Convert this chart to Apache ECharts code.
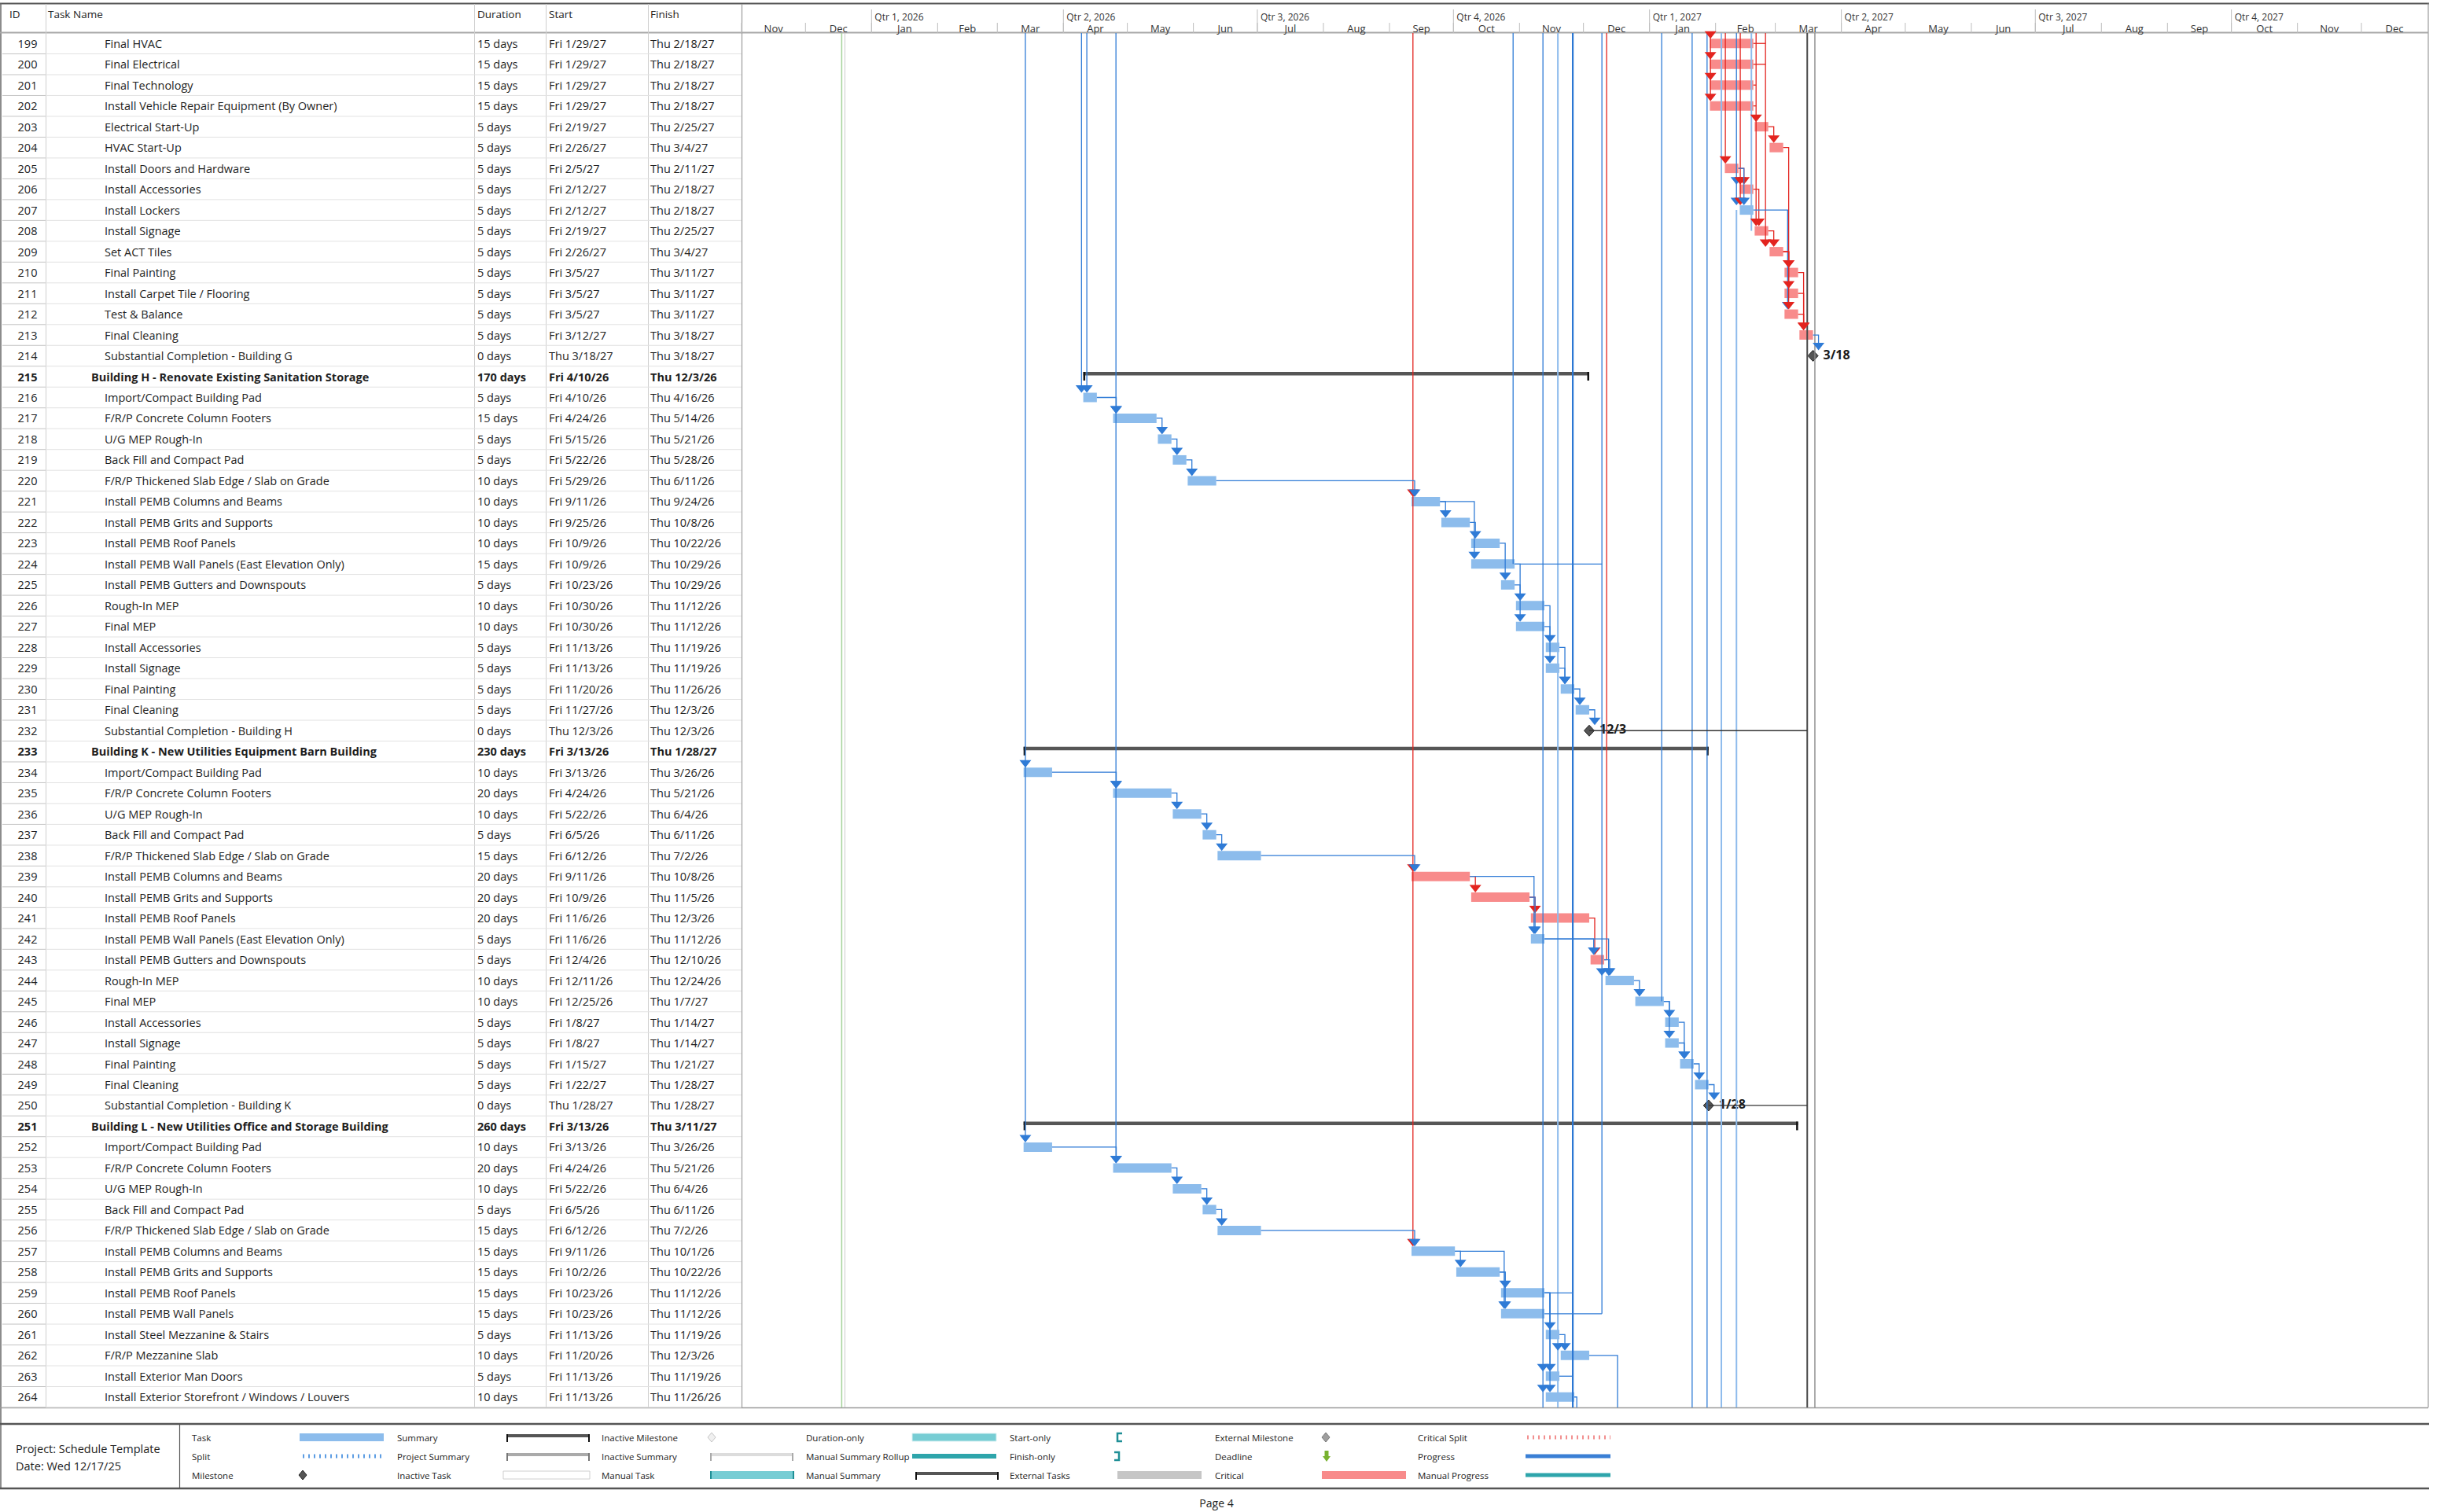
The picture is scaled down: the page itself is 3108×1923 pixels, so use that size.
<!DOCTYPE html>
<html>
<head>
<meta charset="utf-8">
<script src="https://cdn.jsdelivr.net/npm/echarts@6/dist/echarts.min.js"></script>
<style>
html,body{margin:0;padding:0;background:#fff}
#main{width:3108px;height:1923px}
</style>
</head>
<body>
<div id="main"></div>
<script>
// table rows
var ids = [199,200,201,202,203,204,205,206,207,208,209,210,211,212,213,214,215,216,217,218,219,220,
  221,222,223,224,225,226,227,228,229,230,231,232,233,234,235,236,237,238,239,240,241,242,243,244,
  245,246,247,248,249,250,251,252,253,254,255,256,257,258,259,260,261,262,263,264];
var names = ['Final HVAC','Final Electrical','Final Technology','Install Vehicle Repair Equipment (By Owner)',
  'Electrical Start-Up','HVAC Start-Up','Install Doors and Hardware','Install Accessories','Install Lockers',
  'Install Signage','Set ACT Tiles','Final Painting','Install Carpet Tile / Flooring','Test & Balance',
  'Final Cleaning','Substantial Completion - Building G','Building H - Renovate Existing Sanitation Storage',
  'Import/Compact Building Pad','F/R/P Concrete Column Footers','U/G MEP Rough-In','Back Fill and Compact Pad',
  'F/R/P Thickened Slab Edge / Slab on Grade','Install PEMB Columns and Beams','Install PEMB Grits and Supports',
  'Install PEMB Roof Panels','Install PEMB Wall Panels (East Elevation Only)','Install PEMB Gutters and Downspouts',
  'Rough-In MEP','Final MEP','Install Accessories','Install Signage','Final Painting','Final Cleaning',
  'Substantial Completion - Building H','Building K - New Utilities Equipment Barn Building',
  'Import/Compact Building Pad','F/R/P Concrete Column Footers','U/G MEP Rough-In','Back Fill and Compact Pad',
  'F/R/P Thickened Slab Edge / Slab on Grade','Install PEMB Columns and Beams','Install PEMB Grits and Supports',
  'Install PEMB Roof Panels','Install PEMB Wall Panels (East Elevation Only)','Install PEMB Gutters and Downspouts',
  'Rough-In MEP','Final MEP','Install Accessories','Install Signage','Final Painting','Final Cleaning',
  'Substantial Completion - Building K','Building L - New Utilities Office and Storage Building',
  'Import/Compact Building Pad','F/R/P Concrete Column Footers','U/G MEP Rough-In','Back Fill and Compact Pad',
  'F/R/P Thickened Slab Edge / Slab on Grade','Install PEMB Columns and Beams','Install PEMB Grits and Supports',
  'Install PEMB Roof Panels','Install PEMB Wall Panels','Install Steel Mezzanine & Stairs','F/R/P Mezzanine Slab',
  'Install Exterior Man Doors','Install Exterior Storefront / Windows / Louvers'];
var durations = ['15 days','15 days','15 days','15 days','5 days','5 days','5 days','5 days','5 days','5 days',
  '5 days','5 days','5 days','5 days','5 days','0 days','170 days','5 days','15 days','5 days','5 days','10 days',
  '10 days','10 days','10 days','15 days','5 days','10 days','10 days','5 days','5 days','5 days','5 days','0 days',
  '230 days','10 days','20 days','10 days','5 days','15 days','20 days','20 days','20 days','5 days','5 days',
  '10 days','10 days','5 days','5 days','5 days','5 days','0 days','260 days','10 days','20 days','10 days',
  '5 days','15 days','15 days','15 days','15 days','15 days','5 days','10 days','5 days','10 days'];
var starts = ['Fri 1/29/27','Fri 1/29/27','Fri 1/29/27','Fri 1/29/27','Fri 2/19/27','Fri 2/26/27','Fri 2/5/27',
  'Fri 2/12/27','Fri 2/12/27','Fri 2/19/27','Fri 2/26/27','Fri 3/5/27','Fri 3/5/27','Fri 3/5/27','Fri 3/12/27',
  'Thu 3/18/27','Fri 4/10/26','Fri 4/10/26','Fri 4/24/26','Fri 5/15/26','Fri 5/22/26','Fri 5/29/26','Fri 9/11/26',
  'Fri 9/25/26','Fri 10/9/26','Fri 10/9/26','Fri 10/23/26','Fri 10/30/26','Fri 10/30/26','Fri 11/13/26',
  'Fri 11/13/26','Fri 11/20/26','Fri 11/27/26','Thu 12/3/26','Fri 3/13/26','Fri 3/13/26','Fri 4/24/26',
  'Fri 5/22/26','Fri 6/5/26','Fri 6/12/26','Fri 9/11/26','Fri 10/9/26','Fri 11/6/26','Fri 11/6/26','Fri 12/4/26',
  'Fri 12/11/26','Fri 12/25/26','Fri 1/8/27','Fri 1/8/27','Fri 1/15/27','Fri 1/22/27','Thu 1/28/27',
  'Fri 3/13/26','Fri 3/13/26','Fri 4/24/26','Fri 5/22/26','Fri 6/5/26','Fri 6/12/26','Fri 9/11/26','Fri 10/2/26',
  'Fri 10/23/26','Fri 10/23/26','Fri 11/13/26','Fri 11/20/26','Fri 11/13/26','Fri 11/13/26'];
var finishes = ['Thu 2/18/27','Thu 2/18/27','Thu 2/18/27','Thu 2/18/27','Thu 2/25/27','Thu 3/4/27','Thu 2/11/27',
  'Thu 2/18/27','Thu 2/18/27','Thu 2/25/27','Thu 3/4/27','Thu 3/11/27','Thu 3/11/27','Thu 3/11/27','Thu 3/18/27',
  'Thu 3/18/27','Thu 12/3/26','Thu 4/16/26','Thu 5/14/26','Thu 5/21/26','Thu 5/28/26','Thu 6/11/26','Thu 9/24/26',
  'Thu 10/8/26','Thu 10/22/26','Thu 10/29/26','Thu 10/29/26','Thu 11/12/26','Thu 11/12/26','Thu 11/19/26',
  'Thu 11/19/26','Thu 11/26/26','Thu 12/3/26','Thu 12/3/26','Thu 1/28/27','Thu 3/26/26','Thu 5/21/26',
  'Thu 6/4/26','Thu 6/11/26','Thu 7/2/26','Thu 10/8/26','Thu 11/5/26','Thu 12/3/26','Thu 11/12/26','Thu 12/10/26',
  'Thu 12/24/26','Thu 1/7/27','Thu 1/14/27','Thu 1/14/27','Thu 1/21/27','Thu 1/28/27','Thu 1/28/27',
  'Thu 3/11/27','Thu 3/26/26','Thu 5/21/26','Thu 6/4/26','Thu 6/11/26','Thu 7/2/26','Thu 10/1/26','Thu 10/22/26',
  'Thu 11/12/26','Thu 11/12/26','Thu 11/19/26','Thu 12/3/26','Thu 11/19/26','Thu 11/26/26'];
var criticalIds = [199,200,201,202,203,204,205,206,208,209,210,211,212,213,239,240,241,243];
var summaryIds = [215,233,251];
var milestoneIds = [214,232,250];
var milestoneLabels = ['3/18','12/3','1/28'];

// timescale
var monthStarts = ['2025-11-01','2025-12-01','2026-01-01','2026-02-01','2026-03-01','2026-04-01','2026-05-01',
  '2026-06-01','2026-07-01','2026-08-01','2026-09-01','2026-10-01','2026-11-01','2026-12-01','2027-01-01',
  '2027-02-01','2027-03-01','2027-04-01','2027-05-01','2027-06-01','2027-07-01','2027-08-01','2027-09-01',
  '2027-10-01','2027-11-01','2027-12-01','2028-01-01'];
var monthLabels = ['Nov','Dec','Jan','Feb','Mar','Apr','May','Jun','Jul','Aug','Sep','Oct','Nov','Dec',
  'Jan','Feb','Mar','Apr','May','Jun','Jul','Aug','Sep','Oct','Nov','Dec'];
var quarterStarts = ['2026-01-01','2026-04-01','2026-07-01','2026-10-01','2027-01-01','2027-04-01','2027-07-01','2027-10-01'];
var quarterLabels = ['Qtr 1, 2026','Qtr 2, 2026','Qtr 3, 2026','Qtr 4, 2026','Qtr 1, 2027','Qtr 2, 2027','Qtr 3, 2027','Qtr 4, 2027'];

// links on this page [predecessor, successor]
var links = [[203,204],[204,210],[205,206],[205,207],[206,208],[207,212],[208,209],[209,210],[209,211],
  [209,212],[210,213],[211,213],[212,213],[213,214],
  [216,217],[217,218],[218,219],[219,220],[220,221],[221,222],[221,224],[222,223],[223,225],[224,227],
  [225,226],[226,228],[227,229],[228,230],[229,230],[230,231],[231,232],
  [234,235],[235,236],[236,237],[237,238],[238,239],[239,240],[239,242],[240,241],[240,242],[241,243],
  [242,243],[242,244],[243,244],[244,245],[245,246],[245,247],[246,248],[247,248],[248,249],[249,250],
  [252,253],[253,254],[254,255],[255,256],[256,257],[257,258],[257,260],[258,259],[258,260],[259,261],
  [259,263],[259,264],[261,262]];
// links running through the page: [date, from row (null = top), to row (null = bottom), kind, arrow rows]
var passLines = [
  ['2025-12-18', null, null, 'green', []],
  ['2025-12-19T12', null, null, 'gray', []],
  ['2026-03-14T04', null, 252, 'n', [234,252]],
  ['2026-04-09T12', null, 216, 'n', [216]],
  ['2026-04-12', null, 216, 'n', [216]],
  ['2026-04-25T16', null, 253, 'n', [217,235,253]],
  ['2026-09-12', null, 257, 'c', [221,239,257]],
  ['2026-10-29', null, 224, 'n', []],
  ['2026-11-12', null, null, 'n', [263,264]],
  ['2026-11-19', null, null, 'l', [262]],
  ['2026-11-26', null, null, 'b', []],
  ['2026-12-09T16', null, 260, 'n', [244]],
  ['2026-12-11T21', null, 243, 'c', []],
  ['2027-01-06T17', null, 245, 'n', []],
  ['2027-01-21', null, null, 'n', []],
  ['2027-01-28', null, null, 'n', []],
  ['2027-01-29T14', null, 202, 'c', [199,200,201,202]],
  ['2027-02-03T17', null, null, 'l', []],
  ['2027-02-05T14', null, 205, 'c', [205]],
  ['2027-02-10T19', null, 207, 'n', [206,207]],
  ['2027-02-10T19', 207, null, 'l', []],
  ['2027-02-12T14', null, 207, 'c', [206,207]],
  ['2027-02-17T19', null, 208, 'l', []],
  ['2027-02-20', null, 208, 'c', [203,208]],
  ['2027-02-24T10', null, 209, 'c', [209]],
  ['2027-03-16', null, null, 'g', []],
  ['2027-03-19T14', null, null, 'gl', []]
];
// horizontal link stubs from a task's end to a through line
var sideLinks = [[199,'2027-02-24T10','c'],[200,'2027-02-24T10','c'],[201,'2027-02-20','c'],[202,'2027-02-20','c'],
  [224,'2026-12-09T16','n'],[243,'2026-12-11T21','c'],[259,'2026-11-26','n'],[260,'2026-12-09T16','n'],
  [263,'2026-11-26','n'],[232,'2027-03-16','k'],[250,'2027-03-16','k']];
// links leaving the page downward
var downLinks = [[262,'2026-12-17'],[264,'2026-11-27T21']];

var H = 3600e3;
function d(s) {
  var p = s.split('T'), a = p[0].split('-');
  return new Date(+a[0], +a[1] - 1, +a[2], p[1] ? +p[1] : 0).getTime();
}
function pd(s) {
  var a = s.split(' ')[1].split('/');
  return new Date(2000 + +a[2], +a[0] - 1, +a[1]).getTime();
}
function row(id) { return ids.indexOf(id); }

var kinds = [], startMs = [], endMs = [];
ids.forEach(function (id, k) {
  if (milestoneIds.indexOf(id) >= 0) {
    kinds.push('ms');
    startMs.push(pd(finishes[k]) + 17 * H);
    endMs.push(pd(finishes[k]) + 17 * H);
  } else {
    kinds.push(summaryIds.indexOf(id) >= 0 ? 'sum' : (criticalIds.indexOf(id) >= 0 ? 'crit' : 'task'));
    startMs.push(pd(starts[k]) + 8 * H);
    endMs.push(pd(finishes[k]) + 17 * H);
  }
});

var FONT = '"Open Sans", "Noto Sans", sans-serif';
var BLUE = '#2f7bd6', RED = '#e3241f', BAR_BLUE = '#8cbcec', BAR_RED = '#f88b8b';
var BAR_H = 12;
var lineStyles = {
  n: {stroke: BLUE, lineWidth: 1.3}, l: {stroke: '#8ebbec', lineWidth: 2}, b: {stroke: '#2b77d3', lineWidth: 2.2},
  c: {stroke: RED, lineWidth: 1.3}, g: {stroke: '#4a4a4a', lineWidth: 2}, gl: {stroke: '#8a8a8a', lineWidth: 1.4},
  green: {stroke: '#a5d29a', lineWidth: 1.5}, gray: {stroke: '#cccccc', lineWidth: 1}, k: {stroke: '#333', lineWidth: 1.2}
};

function arrow(x, tipY, color) {
  return {type: 'polygon', shape: {points: [[x - 7.5, tipY - 9.5], [x + 7.5, tipY - 9.5], [x, tipY]]}, style: {fill: color}};
}
function topOf(k, y) { return y - (kinds[k] === 'ms' ? 7 : BAR_H / 2); }

var chart = echarts.init(document.getElementById('main'), null, {renderer: 'svg'});

// ---- renderers ----
function renderMonth(params, api) {
  var a = api.coord([api.value(0), 0]), b = api.coord([api.value(1), 0]);
  var top = params.coordSys.y;
  return {type: 'group', children: [
    {type: 'line', shape: {x1: a[0], y1: top - 13, x2: a[0], y2: top}, style: {stroke: '#bdbdbd', lineWidth: 1}},
    {type: 'text', style: {text: monthLabels[params.dataIndex], x: (a[0] + b[0]) / 2, y: top - 6,
      align: 'center', verticalAlign: 'middle', font: '13px ' + FONT, fill: '#333'}}
  ]};
}
function renderQuarter(params, api) {
  var a = api.coord([api.value(0), 0]);
  var top = params.coordSys.y;
  return {type: 'group', children: [
    {type: 'line', shape: {x1: a[0], y1: top - 30, x2: a[0], y2: top}, style: {stroke: '#bdbdbd', lineWidth: 1}},
    {type: 'text', style: {text: quarterLabels[params.dataIndex], x: a[0] + 4, y: top - 21,
      align: 'left', verticalAlign: 'middle', font: '12px ' + FONT, fill: '#333'}}
  ]};
}
function renderRow(params, api) {
  var k = api.value(0);
  var y = api.coord([0, k])[1];
  var h = api.size([0, 1])[1];
  var cs = params.coordSys;
  var bold = kinds[k] === 'sum';
  var font = (bold ? 'bold ' : '') + '14.5px ' + FONT;
  function tx(t, col, align) {
    return {type: 'text', style: {text: t, x: api.coord([col, k])[0], y: y, align: align || 'left',
      verticalAlign: 'middle', font: font, fill: '#1e1e1e'}};
  }
  return {type: 'group', children: [
    {type: 'line', shape: {x1: cs.x + 58, y1: y + h / 2, x2: cs.x + cs.width, y2: y + h / 2}, style: {stroke: '#e2e2e2', lineWidth: 1}},
    {type: 'line', shape: {x1: cs.x + 3, y1: y + h / 2, x2: cs.x + 58, y2: y + h / 2}, style: {stroke: '#c4c4c4', lineWidth: 1}},
    tx(String(ids[k]), 35, 'center'),
    tx(names[k], bold ? 116 : 133),
    tx(durations[k], 607),
    tx(starts[k], 698),
    tx(finishes[k], 827)
  ]};
}
function renderBar(params, api) {
  var k = api.value(0);
  var a = api.coord([api.value(1), k]), b = api.coord([api.value(2), k]);
  var y = a[1];
  var kind = kinds[k];
  if (kind === 'ms') {
    var x = a[0];
    return {type: 'group', children: [
      {type: 'polygon', shape: {points: [[x, y - 7], [x + 6.5, y], [x, y + 7], [x - 6.5, y]]},
        style: {fill: '#555', stroke: '#222', lineWidth: 1}},
      {type: 'text', style: {text: milestoneLabels[milestoneIds.indexOf(ids[k])], x: x + 13, y: y - 2,
        align: 'left', verticalAlign: 'middle', font: 'bold 16px ' + FONT, fill: '#1a1a1a'}}
    ]};
  }
  if (kind === 'sum') {
    return {type: 'group', children: [
      {type: 'rect', shape: {x: a[0], y: y - 6, width: b[0] - a[0], height: 4.5}, style: {fill: '#565656'}},
      {type: 'rect', shape: {x: a[0], y: y - 6, width: 2.5, height: 11}, style: {fill: '#111'}},
      {type: 'rect', shape: {x: b[0] - 2.5, y: y - 6, width: 2.5, height: 11}, style: {fill: '#111'}}
    ]};
  }
  return {type: 'rect', shape: {x: a[0], y: y - BAR_H / 2, width: b[0] - a[0], height: BAR_H},
    style: {fill: kind === 'crit' ? BAR_RED : BAR_BLUE}};
}
function renderLink(params, api) {
  var pa = links[params.dataIndex][0], su = links[params.dataIndex][1];
  var fa = row(pa), fb = row(su);
  var pe = api.coord([api.value(0), fa]), ss = api.coord([api.value(2), fb]);
  var tipY = topOf(fb, ss[1]);
  var xt = Math.max(ss[0] + 4, pe[0] + 7);
  var col = (kinds[fa] === 'crit' && kinds[fb] === 'crit') ? RED : BLUE;
  return {type: 'group', children: [
    {type: 'polyline', shape: {points: [[pe[0], pe[1]], [xt, pe[1]], [xt, tipY - 8]]},
      style: {stroke: col, lineWidth: 1.3, fill: null}},
    arrow(xt, tipY, col)
  ]};
}
function renderPass(params, api) {
  var p = passLines[params.dataIndex];
  var cs = params.coordSys;
  var x = api.coord([api.value(0), 0])[0];
  var st = lineStyles[p[3]];
  var y1 = cs.y, y2 = cs.y + cs.height;
  if (p[1] !== null) y1 = api.coord([0, row(p[1])])[1];
  if (p[2] !== null) {
    var k = row(p[2]);
    var yc = api.coord([0, k])[1];
    y2 = p[4].indexOf(p[2]) >= 0 ? topOf(k, yc) - 6 : yc;
  }
  var ch = [{type: 'line', shape: {x1: x, y1: y1, x2: x, y2: y2}, style: {stroke: st.stroke, lineWidth: st.lineWidth}}];
  p[4].forEach(function (id) {
    var k = row(id);
    ch.push(arrow(x, topOf(k, api.coord([0, k])[1]), p[3] === 'c' ? RED : BLUE));
  });
  return {type: 'group', children: ch};
}
function renderSide(params, api) {
  var s = sideLinks[params.dataIndex];
  var k = row(s[0]);
  var a = api.coord([api.value(0), k]), b = api.coord([api.value(1), k]);
  var st = lineStyles[s[2]];
  return {type: 'line', shape: {x1: a[0], y1: a[1], x2: b[0], y2: a[1]}, style: {stroke: st.stroke, lineWidth: 1.3}};
}
function renderDown(params, api) {
  var s = downLinks[params.dataIndex];
  var k = row(s[0]);
  var a = api.coord([api.value(0), k]), b = api.coord([api.value(1), k]);
  var bottom = params.coordSys.y + params.coordSys.height;
  return {type: 'polyline', shape: {points: [[a[0], a[1]], [b[0], a[1]], [b[0], bottom]]},
    style: {stroke: BLUE, lineWidth: 1.3, fill: null}};
}

// ---- static frame, headers and legend ----
var G = [];
function L(x1, y1, x2, y2, c, w) { G.push({type: 'line', silent: true, shape: {x1: x1, y1: y1, x2: x2, y2: y2}, style: {stroke: c, lineWidth: w || 1}}); }
function T(t, x, y, size, extra) {
  G.push({type: 'text', silent: true, style: Object.assign({text: t, x: x, y: y, font: size + 'px ' + FONT, fill: '#222',
    verticalAlign: 'middle', align: 'left'}, extra || {})});
}
function R(x, y, w, h, fill, stroke) { G.push({type: 'rect', silent: true, shape: {x: x, y: y, width: w, height: h}, style: {fill: fill, stroke: stroke || null}}); }
function P(pts, fill, stroke) { G.push({type: 'polygon', silent: true, shape: {points: pts}, style: {fill: fill, stroke: stroke || null}}); }

L(0, 4.5, 3089, 4.5, '#555', 2);
L(1, 4, 1, 1893, '#666', 1.5);
L(3088, 4, 3088, 1790, '#888', 1);
L(0, 41.5, 3088, 41.5, '#a8a8a8', 2);
L(0, 1790.5, 3088, 1790.5, '#9a9a9a', 1.5);
[58, 603, 694, 824].forEach(function (x) { L(x + 0.5, 5, x + 0.5, 1790, '#cfcfcf', 1); });
L(943.5, 5, 943.5, 1790, '#9a9a9a', 1.2);
T('ID', 12, 18, 13.5); T('Task Name', 61, 18, 13.5); T('Duration', 607, 18, 13.5); T('Start', 698, 18, 13.5); T('Finish', 827, 18, 13.5);

// legend box
L(0, 1811, 3089, 1811, '#555', 2.5);
L(0, 1893, 3089, 1893, '#555', 2.5);
L(228.5, 1811, 228.5, 1893, '#555', 1.2);
T('Project: Schedule Template', 20, 1842, 14.5);
T('Date: Wed 12/17/25', 20, 1864, 14.5);
T('Page 4', 1547, 1911, 14, {align: 'center'});
var lgLabelX = [244, 505, 765, 1025, 1284, 1545, 1803];
var lgSymX = [381, 644, 903, 1160, 1421, 1681, 1940];
var lgY = [1828, 1852, 1876];
var lgText = [['Task', 'Split', 'Milestone'], ['Summary', 'Project Summary', 'Inactive Task'],
  ['Inactive Milestone', 'Inactive Summary', 'Manual Task'], ['Duration-only', 'Manual Summary Rollup', 'Manual Summary'],
  ['Start-only', 'Finish-only', 'External Tasks'], ['External Milestone', 'Deadline', 'Critical'],
  ['Critical Split', 'Progress', 'Manual Progress']];
lgText.forEach(function (col, c) { col.forEach(function (t, r) { T(t, lgLabelX[c], lgY[r], 11.5); }); });
function bracket(x, y, col, cap) {
  R(x, y - 4, 106, 4, col); R(x, y - 4, 2, 10, cap); R(x + 104, y - 4, 2, 10, cap);
}
function diamond(x, y, fill, stroke) { P([[x, y - 6], [x + 5, y], [x, y + 6], [x - 5, y]], fill, stroke); }
var sx = lgSymX, sy = lgY;
R(sx[0], sy[0] - 5, 107, 10, BAR_BLUE);
G.push({type: 'line', silent: true, shape: {x1: sx[0] + 4, y1: sy[1], x2: sx[0] + 107, y2: sy[1]}, style: {stroke: '#5d9de3', lineWidth: 5, lineDash: [2, 5]}});
diamond(sx[0] + 4, sy[2], '#555', '#222');
bracket(sx[1], sy[0], '#555', '#111');
bracket(sx[1], sy[1], '#aaaaaa', '#777');
R(sx[1] - 4, sy[2] - 5, 110, 10, '#fff', '#cfcfcf');
diamond(sx[2] + 2, sy[0], '#f0f0f0', '#c6c6c6');
bracket(sx[2], sy[1], '#dcdcdc', '#aaa');
R(sx[2], sy[2] - 5, 107, 10, '#77cdd4'); R(sx[2], sy[2] - 5, 2, 10, '#1f8f96'); R(sx[2] + 105, sy[2] - 5, 2, 10, '#1f8f96');
R(sx[3], sy[0] - 5, 107, 10, '#77cdd4', '#d8f0f2');
R(sx[3], sy[1] - 3, 107, 6, '#2ea5ab');
bracket(sx[3] + 4, sy[2], '#555', '#111');
G.push({type: 'polyline', silent: true, shape: {points: [[sx[4] + 6, sy[0] - 5], [sx[4], sy[0] - 5], [sx[4], sy[0] + 5], [sx[4] + 6, sy[0] + 5]]}, style: {stroke: '#1f8f96', lineWidth: 2.5, fill: null}});
G.push({type: 'polyline', silent: true, shape: {points: [[sx[4] - 4, sy[1] - 5], [sx[4] + 2, sy[1] - 5], [sx[4] + 2, sy[1] + 5], [sx[4] - 4, sy[1] + 5]]}, style: {stroke: '#1f8f96', lineWidth: 2.5, fill: null}});
R(sx[4], sy[2] - 5, 107, 10, '#c6c6c6');
diamond(sx[5] + 5, sy[0], '#9e9e9e', '#777');
P([[sx[5] + 1, sy[1]], [sx[5] + 11, sy[1]], [sx[5] + 6, sy[1] + 7]], '#78b22f');
R(sx[5] + 3.5, sy[1] - 7, 5, 8, '#78b22f');
R(sx[5], sy[2] - 5, 107, 10, BAR_RED);
G.push({type: 'line', silent: true, shape: {x1: sx[6] + 2, y1: sy[0], x2: sx[6] + 108, y2: sy[0]}, style: {stroke: '#f29090', lineWidth: 5, lineDash: [2, 5]}});
R(sx[6], sy[1] - 2.5, 108, 5, '#3a7fd5');
R(sx[6], sy[2] - 2.5, 108, 5, '#2ea5ab');

// ---- data for series ----
var monthData = monthLabels.map(function (m, i) { return [d(monthStarts[i]), d(monthStarts[i + 1]), 0]; });
var quarterData = quarterStarts.map(function (q) { return [d(q), 0]; });
var rowData = ids.map(function (id, k) { return [k, 0]; });
var barData = ids.map(function (id, k) { return [k, startMs[k], endMs[k]]; });
var linkData = links.map(function (l) { var a = row(l[0]), b = row(l[1]); return [endMs[a], a, startMs[b], b]; });
var passData = passLines.map(function (p) { return [d(p[0]), 0]; });
var sideData = sideLinks.map(function (s) { var k = row(s[0]); return [endMs[k], d(s[1]), k]; });
var downData = downLinks.map(function (s) { var k = row(s[0]); return [endMs[k], d(s[1]), k]; });

var option = {
  animation: false,
  backgroundColor: '#fff',
  graphic: G,
  grid: [
    {left: 943, top: 42, width: 2144, height: 1748},
    {left: 0, top: 42, width: 943, height: 1748}
  ],
  xAxis: [
    {type: 'time', gridIndex: 0, min: d('2025-11-01'), max: d('2028-01-01'), show: false},
    {type: 'value', gridIndex: 1, min: 0, max: 943, show: false}
  ],
  yAxis: [
    {type: 'category', gridIndex: 0, data: ids.map(String), inverse: true, show: false},
    {type: 'category', gridIndex: 1, data: ids.map(String), inverse: true, show: false}
  ],
  series: [
    {type: 'custom', name: 'months', xAxisIndex: 0, yAxisIndex: 0, renderItem: renderMonth, data: monthData, encode: {x: [0, 1], y: 2}, silent: true, z: 5},
    {type: 'custom', name: 'quarters', xAxisIndex: 0, yAxisIndex: 0, renderItem: renderQuarter, data: quarterData, encode: {x: 0, y: 1}, silent: true, z: 5},
    {type: 'custom', name: 'table', xAxisIndex: 1, yAxisIndex: 1, renderItem: renderRow, data: rowData, encode: {x: 1, y: 0}, silent: true, z: 3},
    {type: 'custom', name: 'bars', xAxisIndex: 0, yAxisIndex: 0, renderItem: renderBar, data: barData, encode: {x: [1, 2], y: 0}, silent: true, z: 4},
    {type: 'custom', name: 'through', xAxisIndex: 0, yAxisIndex: 0, renderItem: renderPass, data: passData, encode: {x: 0, y: 1}, silent: true, z: 6},
    {type: 'custom', name: 'side', xAxisIndex: 0, yAxisIndex: 0, renderItem: renderSide, data: sideData, encode: {x: [0, 1], y: 2}, silent: true, z: 6},
    {type: 'custom', name: 'down', xAxisIndex: 0, yAxisIndex: 0, renderItem: renderDown, data: downData, encode: {x: [0, 1], y: 2}, silent: true, z: 6},
    {type: 'custom', name: 'links', xAxisIndex: 0, yAxisIndex: 0, renderItem: renderLink, data: linkData, encode: {x: [0, 2], y: [1, 3]}, silent: true, z: 7}
  ]
};
chart.setOption(option);
</script>
</body>
</html>
